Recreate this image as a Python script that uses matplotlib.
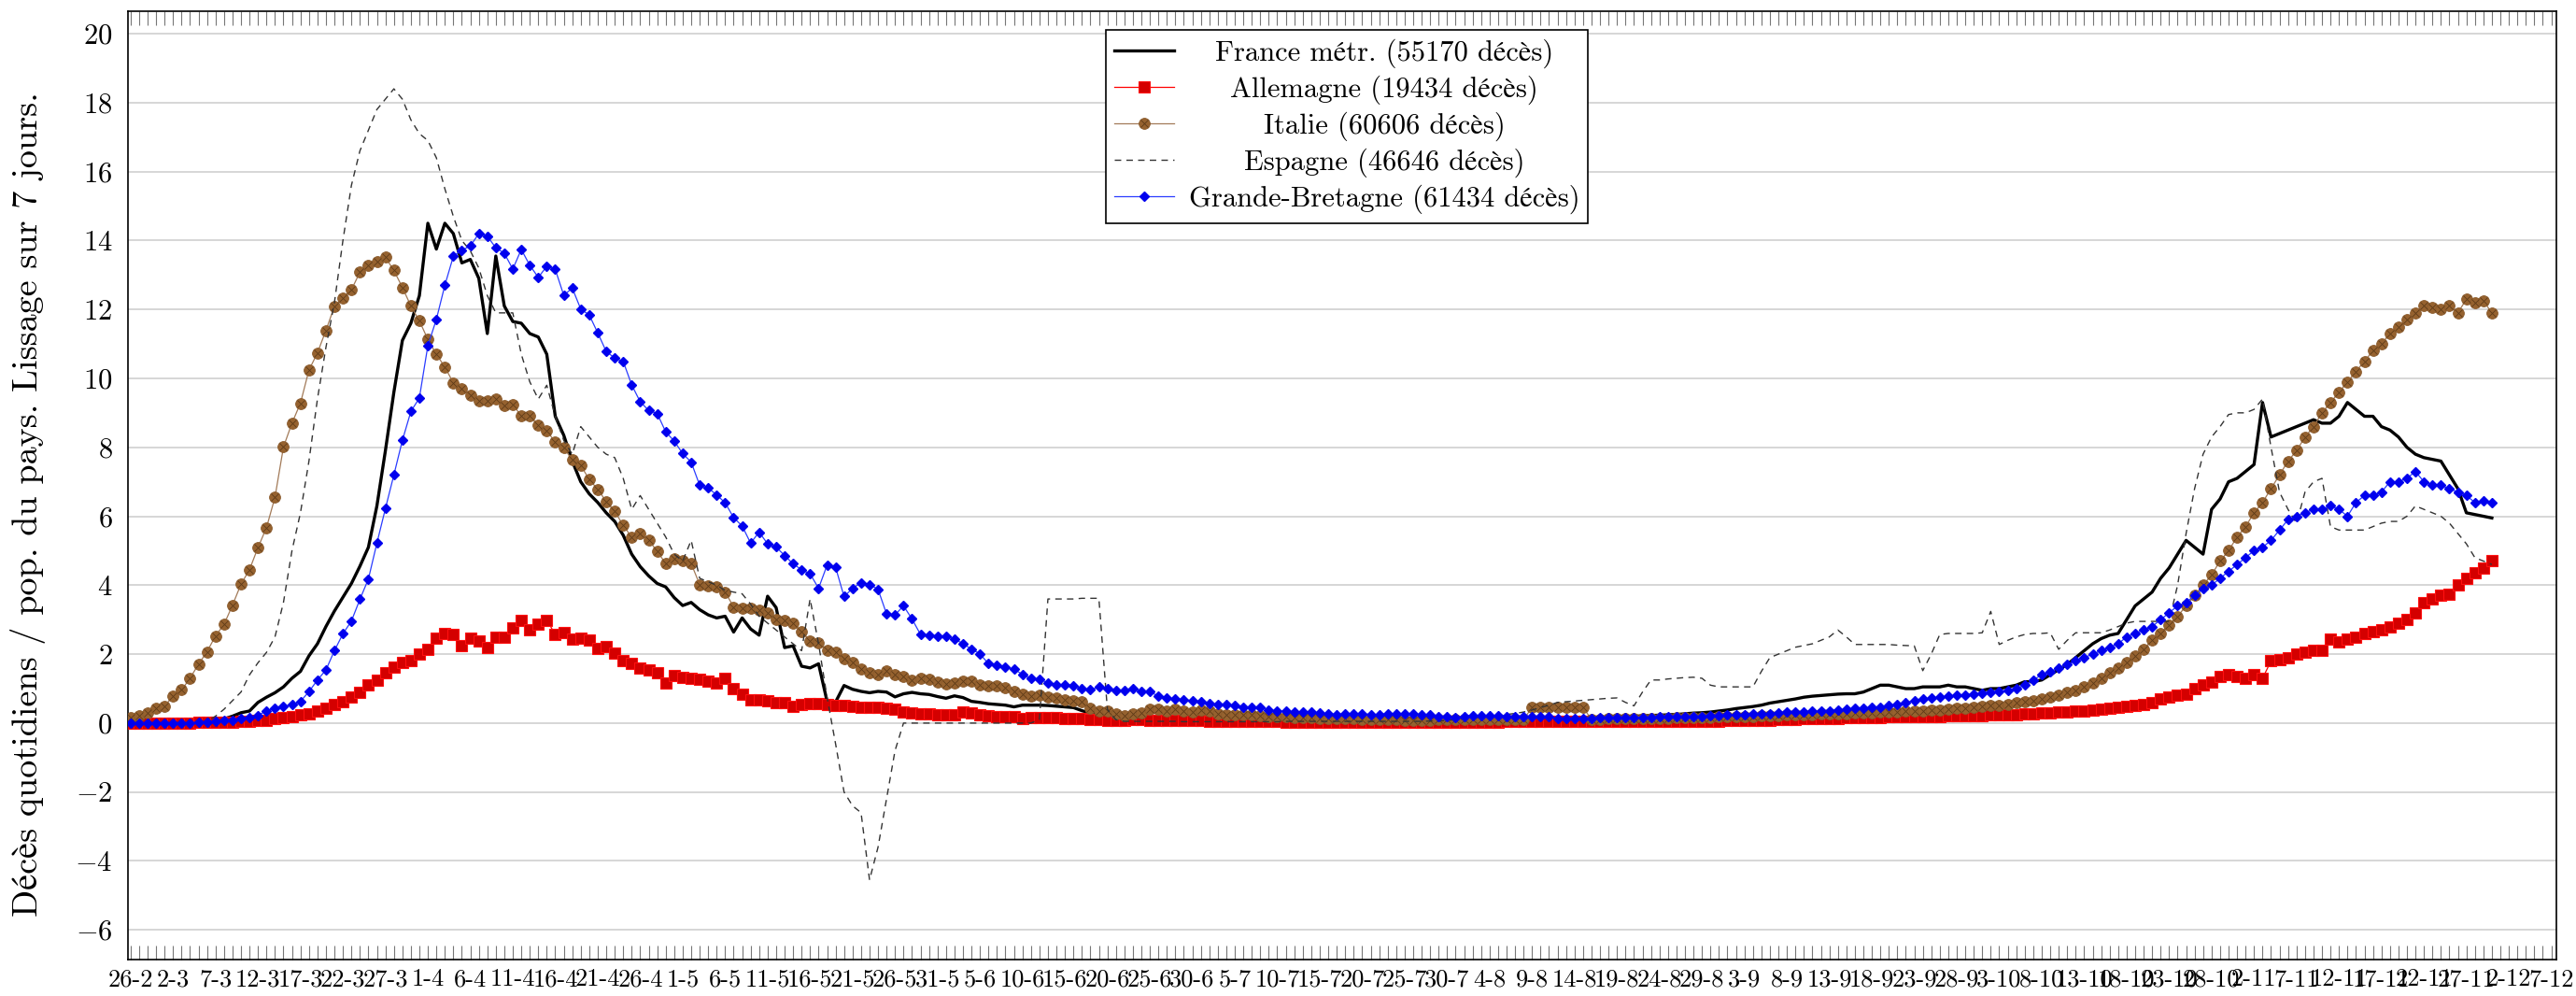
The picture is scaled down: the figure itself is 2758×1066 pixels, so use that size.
import numpy as np
import matplotlib
matplotlib.use('Agg')
import matplotlib.pyplot as plt
from matplotlib.legend_handler import HandlerTuple

plt.rcParams['font.family'] = ['cmr10', 'STIXGeneral']
plt.rcParams['mathtext.fontset'] = 'cm'
plt.rcParams['axes.formatter.use_mathtext'] = True

# one value per day, starting 26-2-2020
france = [
    0.0, 0.0, 0.0, 0.0, 0.0, 0.0, 0.02, 0.03, 0.05, 0.07,
    0.1, 0.12, 0.2, 0.3, 0.35, 0.6, 0.75, 0.88, 1.05, 1.3,
    1.5, 1.95, 2.3, 2.8, 3.25, 3.65, 4.05, 4.55, 5.1, 6.3,
    7.9, 9.6, 11.1, 11.6, 12.4, 14.5, 13.75, 14.5, 14.2, 13.35,
    13.45, 12.9, 11.3, 13.55, 12.1, 11.65, 11.6, 11.3, 11.2, 10.7,
    8.9, 8.35, 7.6, 7.0, 6.65, 6.4, 6.1, 5.85, 5.45, 4.9,
    4.54, 4.27, 4.05, 3.95, 3.64, 3.41, 3.5, 3.29, 3.14, 3.05,
    3.1, 2.64, 3.05, 2.73, 2.55, 3.68, 3.35, 2.19, 2.24, 1.65,
    1.6, 1.72, 0.63, 0.61, 1.09, 0.98, 0.92, 0.88, 0.92, 0.9,
    0.76, 0.85, 0.89, 0.85, 0.83, 0.77, 0.72, 0.79, 0.74, 0.63,
    0.6, 0.56, 0.54, 0.52, 0.47, 0.52, 0.52, 0.52, 0.51, 0.49,
    0.47, 0.45, 0.36, 0.29, 0.27, 0.24, 0.2, 0.15,
    0.15, 0.14, 0.14, 0.13, 0.13, 0.12, 0.12, 0.12, 0.11, 0.11,
    0.11, 0.1, 0.1, 0.1, 0.1, 0.1, 0.1, 0.09, 0.09, 0.09,
    0.09, 0.09, 0.09, 0.09, 0.08, 0.08, 0.08, 0.08, 0.08, 0.08,
    0.08, 0.08, 0.08, 0.08, 0.09, 0.09, 0.09, 0.09, 0.1, 0.1,
    0.1, 0.1, 0.11, 0.11, 0.11, 0.12, 0.12, 0.12, 0.13, 0.13,
    0.13, 0.14, 0.14, 0.15, 0.15, 0.16, 0.17, 0.18, 0.19, 0.2,
    0.21, 0.22, 0.23, 0.24, 0.25, 0.27, 0.29, 0.3, 0.32, 0.35,
    0.38, 0.42, 0.45, 0.48, 0.52, 0.58, 0.62, 0.66, 0.7, 0.75,
    0.78, 0.8, 0.82, 0.84, 0.85, 0.85, 0.9, 1.0, 1.1, 1.1,
    1.05, 1.0, 1.0, 1.05, 1.05, 1.05, 1.1, 1.05, 1.05, 1.0,
    0.95, 1.0, 1.0, 1.05, 1.1, 1.2, 1.2, 1.25, 1.4, 1.55,
    1.7, 1.9, 2.1, 2.3, 2.45, 2.55, 2.6, 3.0, 3.4, 3.6,
    3.8, 4.2, 4.5, 4.9, 5.3, 5.1, 4.9, 6.2, 6.5, 7.0,
    7.1, 7.3, 7.5, 9.3, 8.3, 8.4, 8.5, 8.6, 8.7, 8.8,
    8.7, 8.7, 8.9, 9.3, 9.1, 8.9, 8.9, 8.6, 8.5, 8.3,
    8.0, 7.8, 7.7, 7.65, 7.6, 7.2, 6.8, 6.1, 6.05, 6.0, 5.95,
]

allemagne = [
    0.0, 0.0, 0.0, 0.0, 0.0, 0.01, 0.01, 0.01, 0.02, 0.02,
    0.02, 0.03, 0.03, 0.04, 0.05, 0.07, 0.09, 0.13, 0.17, 0.2,
    0.24, 0.28, 0.36, 0.43, 0.53, 0.63, 0.76, 0.89, 1.12, 1.25,
    1.45, 1.61, 1.75, 1.82, 2.0, 2.13, 2.46, 2.59, 2.57, 2.24,
    2.47, 2.39, 2.2, 2.5, 2.49, 2.75, 2.99, 2.7, 2.86, 2.99,
    2.57, 2.63, 2.43, 2.46, 2.41, 2.17, 2.21, 2.04, 1.82, 1.72,
    1.6, 1.53, 1.47, 1.15, 1.39, 1.32, 1.31, 1.27, 1.21, 1.15,
    1.29, 1.01, 0.85, 0.67, 0.67, 0.65, 0.6, 0.6, 0.49, 0.54,
    0.56, 0.56, 0.54, 0.52, 0.51, 0.49, 0.45, 0.45, 0.45, 0.44,
    0.4, 0.33, 0.29, 0.27, 0.27, 0.25, 0.24, 0.24, 0.33, 0.29,
    0.24, 0.22, 0.2, 0.2, 0.18, 0.14, 0.16, 0.16, 0.15, 0.15,
    0.14, 0.14, 0.13, 0.11, 0.1, 0.09, 0.08, 0.07,
    0.1, 0.1, 0.09, 0.08, 0.08, 0.07, 0.07, 0.07, 0.07, 0.06,
    0.06, 0.05, 0.05, 0.05, 0.05, 0.04, 0.04, 0.04, 0.03, 0.03,
    0.03, 0.03, 0.02, 0.02, 0.02, 0.02, 0.03, 0.03, 0.03, 0.03,
    0.03, 0.03, 0.03, 0.03, 0.03, 0.03, 0.03, 0.03, 0.03, 0.03,
    0.03, 0.03, 0.03, 0.03, 0.04, 0.04, 0.04, 0.04, 0.04, 0.04,
    0.04, 0.04, 0.04, 0.04, 0.04, 0.04, 0.04, 0.04, 0.04, 0.04,
    0.04, 0.04, 0.04, 0.05, 0.05, 0.05, 0.05, 0.06, 0.06, 0.06,
    0.07, 0.07, 0.08, 0.08, 0.09, 0.09, 0.1, 0.1, 0.11, 0.12,
    0.12, 0.13, 0.13, 0.14, 0.15, 0.15, 0.16, 0.17, 0.17, 0.18,
    0.18, 0.19, 0.19, 0.2, 0.2, 0.2, 0.21, 0.21, 0.22, 0.22,
    0.22, 0.23, 0.23, 0.24, 0.25, 0.26, 0.28, 0.3, 0.3, 0.32,
    0.33, 0.35, 0.36, 0.38, 0.4, 0.42, 0.45, 0.48, 0.5, 0.55,
    0.6, 0.7, 0.75, 0.8, 0.85, 1.0, 1.1, 1.2, 1.35, 1.4,
    1.35, 1.3, 1.4, 1.3, 1.8, 1.85, 1.9, 2.0, 2.05, 2.1,
    2.1, 2.45, 2.35, 2.45, 2.5, 2.6, 2.65, 2.7, 2.8, 2.9,
    3.0, 3.2, 3.5, 3.6, 3.7, 3.75, 4.0, 4.2, 4.35, 4.5, 4.7,
]

italie = [
    0.17, 0.22, 0.3, 0.42, 0.49, 0.79, 0.96, 1.3, 1.71, 2.07,
    2.53, 2.86, 3.42, 4.03, 4.45, 5.09, 5.67, 6.55, 8.01, 8.7,
    9.28, 10.24, 10.74, 11.39, 12.09, 12.32, 12.57, 13.08, 13.29, 13.39,
    13.51, 13.13, 12.64, 12.1, 11.67, 11.13, 10.7, 10.33, 9.87, 9.71,
    9.51, 9.34, 9.34, 9.41, 9.22, 9.24, 8.91, 8.91, 8.64, 8.47,
    8.16, 7.99, 7.63, 7.47, 7.07, 6.78, 6.43, 6.14, 5.74, 5.39,
    5.5, 5.31, 4.98, 4.63, 4.76, 4.71, 4.63, 4.02, 3.98, 3.95,
    3.8, 3.37, 3.34, 3.34, 3.28, 3.2, 3.0, 2.97, 2.9, 2.64,
    2.39, 2.32, 2.1, 2.06, 1.86, 1.77, 1.56, 1.45, 1.42, 1.51,
    1.42, 1.35, 1.24, 1.29, 1.27, 1.19, 1.13, 1.17, 1.22, 1.21,
    1.12, 1.08, 1.09, 1.04, 0.92, 0.85, 0.79, 0.81, 0.76, 0.72,
    0.68, 0.65, 0.63, 0.43, 0.36, 0.34, 0.27, 0.22,
    0.27, 0.3, 0.4, 0.4, 0.36, 0.4, 0.36, 0.33, 0.38, 0.34,
    0.27, 0.25, 0.25, 0.23, 0.23, 0.22, 0.2, 0.18, 0.18, 0.17,
    0.15, 0.15, 0.14, 0.13, 0.13, 0.12, 0.12, 0.11, 0.1, 0.1,
    0.1, 0.1, 0.09, 0.09, 0.09, 0.09, 0.1, 0.1, 0.1, 0.1,
    0.1, 0.1, 0.1, 0.1, 0.1, 0.1, 0.1, 0.46, 0.46, 0.46,
    0.46, 0.46, 0.46, 0.46, 0.1, 0.1, 0.12, 0.12, 0.12, 0.13,
    0.13, 0.13, 0.14, 0.14, 0.15, 0.15, 0.16, 0.16, 0.17, 0.18,
    0.18, 0.19, 0.2, 0.2, 0.21, 0.22, 0.22, 0.23, 0.24, 0.25,
    0.25, 0.26, 0.27, 0.28, 0.28, 0.29, 0.3, 0.3, 0.31, 0.32,
    0.33, 0.34, 0.35, 0.36, 0.37, 0.38, 0.4, 0.42, 0.44, 0.46,
    0.48, 0.5, 0.52, 0.55, 0.58, 0.62, 0.66, 0.7, 0.75, 0.8,
    0.88, 0.95, 1.05, 1.15, 1.3, 1.45, 1.6, 1.75, 1.95, 2.15,
    2.4, 2.6, 2.85, 3.1, 3.4, 3.7, 4.0, 4.3, 4.7, 5.0,
    5.4, 5.7, 6.1, 6.4, 6.8, 7.2, 7.6, 7.9, 8.3, 8.6,
    9.0, 9.3, 9.6, 9.9, 10.2, 10.5, 10.8, 11.0, 11.3, 11.5,
    11.7, 11.9, 12.1, 12.05, 12.0, 12.1, 11.9, 12.3, 12.2, 12.25, 11.9,
]

espagne = [
    0.0, 0.0, 0.0, 0.0, 0.0, 0.0, 0.0, 0.0, 0.02, 0.05,
    0.2, 0.4, 0.65, 0.9, 1.4, 1.75, 2.05, 2.5, 3.5, 5.0,
    6.1, 7.6, 9.4, 10.9, 12.2, 14.0, 15.6, 16.6, 17.2, 17.8,
    18.1, 18.4, 18.1, 17.5, 17.1, 16.9, 16.4, 15.5, 14.7, 14.0,
    13.7, 13.2, 12.4, 11.9, 11.9, 11.9, 10.7, 9.9, 9.4, 9.8,
    8.9, 8.2, 7.8, 8.6, 8.3, 8.0, 7.8, 7.7, 7.1, 6.2,
    6.6, 6.2, 5.8, 5.4, 4.9, 4.7, 5.3, 4.2, 4.1, 4.0,
    3.85, 3.8, 3.75, 3.45, 3.1, 2.9, 2.7, 2.5, 2.3, 2.1,
    3.6, 2.3, 0.75, -0.6, -2.0, -2.4, -2.6, -4.55, -3.6, -2.2,
    -0.8, 0.0, 0.0, 0.0, 0.0, 0.0, 0.0, 0.0, 0.0, 0.0,
    0.0, 0.0, 0.0, 0.0, 0.0, 0.0, 0.0, 0.1, 3.6, 3.6,
    3.6, 3.6, 3.62, 3.62, 3.62, 0.4, 0.1, 0.05,
    0.05, 0.05, 0.05, 0.05, 0.05, 0.05, 0.04, 0.04, 0.04, 0.04,
    0.04, 0.04, 0.04, 0.04, 0.04, 0.04, 0.04, 0.04, 0.05, 0.05,
    0.05, 0.05, 0.05, 0.05, 0.05, 0.05, 0.05, 0.05, 0.05, 0.05,
    0.05, 0.05, 0.05, 0.05, 0.05, 0.06, 0.06, 0.08, 0.1, 0.12,
    0.15, 0.18, 0.2, 0.22, 0.25, 0.28, 0.32, 0.38, 0.45, 0.52,
    0.6, 0.62, 0.64, 0.66, 0.68, 0.7, 0.72, 0.73, 0.6, 0.5,
    0.9, 1.25, 1.25, 1.28, 1.3, 1.32, 1.33, 1.3, 1.1, 1.05,
    1.05, 1.05, 1.05, 1.05, 1.5, 1.9, 2.0, 2.1, 2.2, 2.25,
    2.3, 2.4, 2.5, 2.7, 2.5, 2.28, 2.28, 2.28, 2.28, 2.28,
    2.26, 2.25, 2.24, 1.52, 2.0, 2.57, 2.6, 2.6, 2.6, 2.6,
    2.62, 3.24, 2.28, 2.4, 2.5, 2.57, 2.6, 2.6, 2.62, 2.14,
    2.4, 2.62, 2.62, 2.62, 2.62, 2.7, 2.8, 2.9, 2.95, 2.95,
    2.95, 2.95, 2.95, 4.0, 5.5, 6.8, 7.8, 8.3, 8.6, 8.95,
    9.0, 9.0, 9.1, 9.4, 8.0, 6.7, 6.2, 5.8, 6.7, 7.0,
    7.1, 5.7, 5.6, 5.6, 5.6, 5.6, 5.7, 5.8, 5.85, 5.85,
    6.0, 6.3, 6.2, 6.1, 6.0, 5.8, 5.5, 5.2, 4.8, 4.7, 4.6,
]

grande_bretagne = [
    0.0, 0.0, 0.0, 0.0, 0.0, 0.0, 0.01, 0.01, 0.02, 0.03,
    0.05, 0.07, 0.09, 0.13, 0.17, 0.22, 0.36, 0.42, 0.49, 0.53,
    0.63, 0.91, 1.25, 1.54, 2.1, 2.59, 2.96, 3.59, 4.18, 5.22,
    6.22, 7.2, 8.2, 9.04, 9.43, 10.95, 11.71, 12.7, 13.54, 13.72,
    13.84, 14.2, 14.12, 13.79, 13.63, 13.17, 13.74, 13.28, 12.93, 13.25,
    13.16, 12.41, 12.62, 12.01, 11.84, 11.32, 10.78, 10.59, 10.49, 9.81,
    9.32, 9.07, 8.98, 8.45, 8.18, 7.82, 7.57, 6.9, 6.82, 6.62,
    6.39, 5.96, 5.72, 5.22, 5.54, 5.2, 5.11, 4.86, 4.62, 4.45,
    4.33, 3.91, 4.58, 4.52, 3.67, 3.91, 4.07, 4.02, 3.88, 3.17,
    3.14, 3.4, 3.02, 2.57, 2.55, 2.53, 2.52, 2.43, 2.31, 2.14,
    2.01, 1.72, 1.67, 1.62, 1.57, 1.41, 1.29, 1.27, 1.17, 1.12,
    1.12, 1.09, 1.01, 0.96, 1.05, 1.0, 0.94, 0.94,
    1.0, 0.91, 0.91, 0.78, 0.72, 0.7, 0.68, 0.65, 0.63, 0.56,
    0.55, 0.53, 0.51, 0.47, 0.45, 0.45, 0.38, 0.35, 0.34, 0.32,
    0.32, 0.32, 0.29, 0.27, 0.25, 0.27, 0.27, 0.27, 0.25, 0.25,
    0.28, 0.27, 0.27, 0.26, 0.25, 0.25, 0.2, 0.18, 0.16, 0.2,
    0.22, 0.22, 0.22, 0.22, 0.2, 0.2, 0.2, 0.2, 0.2, 0.2,
    0.12, 0.12, 0.12, 0.12, 0.12, 0.15, 0.16, 0.16, 0.16, 0.16,
    0.17, 0.17, 0.18, 0.18, 0.19, 0.19, 0.2, 0.2, 0.21, 0.22,
    0.23, 0.24, 0.25, 0.26, 0.27, 0.28, 0.3, 0.31, 0.32, 0.33,
    0.34, 0.35, 0.36, 0.38, 0.4, 0.42, 0.44, 0.45, 0.47, 0.5,
    0.55, 0.6, 0.65, 0.7, 0.72, 0.75, 0.78, 0.8, 0.82, 0.85,
    0.87, 0.9, 0.92, 0.95, 1.0, 1.1, 1.25, 1.4, 1.5, 1.6,
    1.7, 1.8, 1.9, 2.0, 2.1, 2.2, 2.3, 2.5, 2.6, 2.7,
    2.8, 3.0, 3.2, 3.4, 3.5, 3.7, 3.9, 4.0, 4.2, 4.4,
    4.6, 4.8, 5.0, 5.1, 5.3, 5.6, 5.9, 6.0, 6.1, 6.2,
    6.2, 6.3, 6.2, 6.0, 6.4, 6.6, 6.6, 6.7, 7.0, 7.0,
    7.1, 7.3, 7.0, 6.9, 6.9, 6.8, 6.7, 6.6, 6.4, 6.45, 6.4,
]

tick_labels = ['26-2', '2-3', '7-3', '12-3', '17-3', '22-3', '27-3', '1-4', '6-4', '11-4',
               '16-4', '21-4', '26-4', '1-5', '6-5', '11-5', '16-5', '21-5', '26-5', '31-5',
               '5-6', '10-6', '15-6', '20-6', '25-6', '30-6', '5-7', '10-7', '15-7', '20-7',
               '25-7', '30-7', '4-8', '9-8', '14-8', '19-8', '24-8', '29-8', '3-9', '8-9',
               '13-9', '18-9', '23-9', '28-9', '3-10', '8-10', '13-10', '18-10', '23-10', '28-10',
               '2-11', '7-11', '12-11', '17-11', '22-11', '27-11', '2-12', '7-12']

labels = ['France métr. (55170 décès)', 'Allemagne (19434 décès)', 'Italie (60606 décès)',
          'Espagne (46646 décès)', 'Grande-Bretagne (61434 décès)']

days = np.arange(len(france))

fig = plt.figure(figsize=(27.58, 10.66), dpi=100)
ax = fig.add_axes([0.0497, 0.0366, 0.9427, 0.9521])

l_fr, = ax.plot(days, france, color='black', lw=2.4, zorder=3)
l_de, = ax.plot(days, allemagne, color='red', lw=0.9, marker='s', ms=8.8,
                mfc='#d40000', mec='#ff1010', mew=0.8, zorder=3)
l_it, = ax.plot(days, italie, color='#a27a58', lw=0.9, marker='o', ms=8.5,
                mfc='#96622f', mec='#8a5a2c', mew=0.6, zorder=3)
l_itx, = ax.plot(days, italie, ls='none', marker='x', ms=5.5, mec='#5e3b18',
                 mew=0.6, zorder=3)
l_es, = ax.plot(days, espagne, color='#333333', lw=1.0, ls=(0, (5, 4)), zorder=3)
l_uk, = ax.plot(days, grande_bretagne, color='#2a3cff', lw=0.9, marker='D', ms=5.5,
                mfc='#0000ee', mec='#0000ee', zorder=3)

ax.set_xlim(-0.3, 285.6)
ax.set_ylim(-6.86, 20.65)
ax.set_yticks(np.arange(-6, 21, 2))
ax.set_xticks(np.arange(0, 286, 5))
ax.set_xticklabels(tick_labels)
ax.set_xticks(np.arange(0, 286, 1), minor=True)
ax.grid(axis='y', color='#cfcfcf', lw=1.2)
ax.set_axisbelow(True)

ax.tick_params(axis='x', which='both', direction='in', top=True, length=11,
               width=0.8, color='#777777', labelsize=19, pad=7)
ax.tick_params(axis='y', which='both', direction='in', right=True, length=0,
               labelsize=22, pad=12)
for s in ax.spines.values():
    s.set_linewidth(1.2)

ax.set_ylabel('Décès quotidiens / pop. du pays. Lissage sur 7 jours.', fontsize=27.5)
ax.yaxis.set_label_coords(-0.034, 0.48)

leg = ax.legend([l_fr, l_de, (l_it, l_itx), l_es, l_uk], labels,
                handler_map={tuple: HandlerTuple(ndivide=1, pad=0)},
                loc='upper center', bbox_to_anchor=(0.502, 0.98), borderaxespad=0,
                fontsize=22, fancybox=False, framealpha=1, edgecolor='black',
                borderpad=0.3, labelspacing=0.25, handlelength=2.1, handletextpad=0.5)
leg.get_frame().set_linewidth(1.2)

# centre the legend texts like pgfplots does
fig.canvas.draw()
r = fig.canvas.get_renderer()
rows = leg._legend_handle_box.get_children()[0].get_children()
widths = [t.get_window_extent(r).width for t in leg.get_texts()]
for row, w in zip(rows, widths):
    row.sep = row.sep + (max(widths) - w) / 2 / r.points_to_pixels(1.0)

fig.savefig('out.png', dpi=100)
